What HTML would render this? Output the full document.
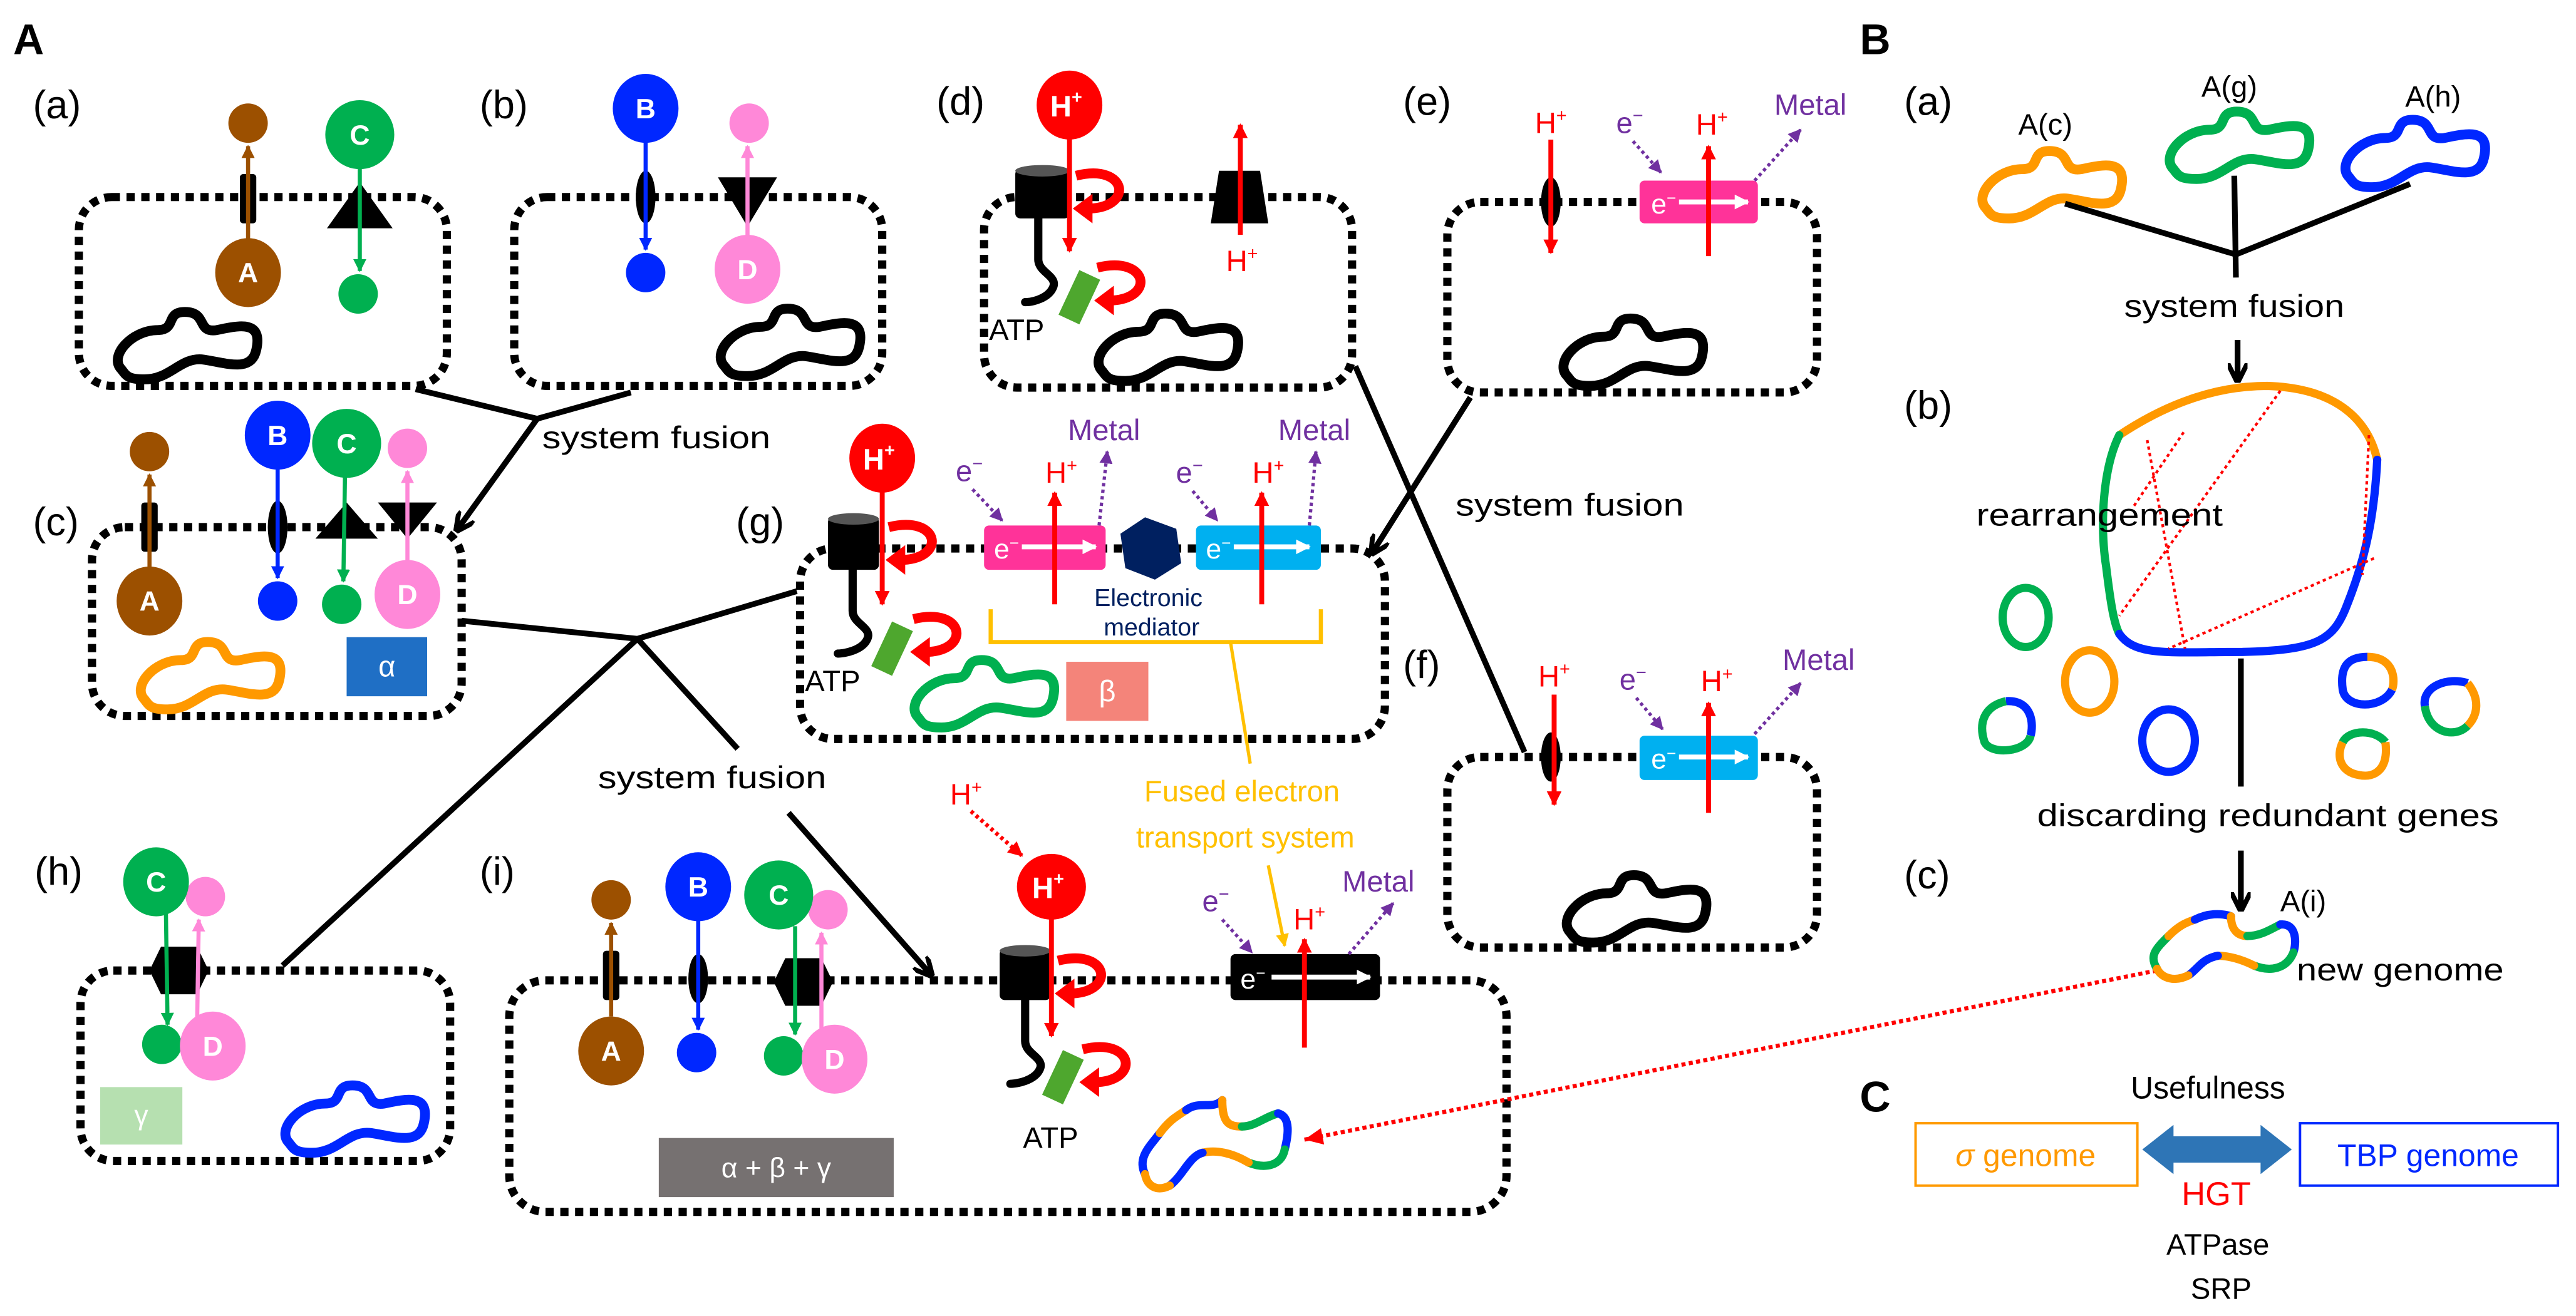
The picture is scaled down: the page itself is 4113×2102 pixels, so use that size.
<!DOCTYPE html>
<html><head><meta charset="utf-8"><style>
html,body{margin:0;padding:0;background:#fff;width:4113px;height:2102px;overflow:hidden}
svg{display:block}
text{font-family:"Liberation Sans","Noto Sans CJK JP",sans-serif}
</style></head><body>
<svg width="4113" height="2102" viewBox="0 0 1568 801.4" preserveAspectRatio="none" xmlns="http://www.w3.org/2000/svg">
<defs>
<marker id="ak" viewBox="0 0 10 10" refX="8" refY="5" markerWidth="14" markerHeight="14" markerUnits="userSpaceOnUse" orient="auto"><path d="M0,0 L9,5 L0,10" fill="none" stroke="#000" stroke-width="2.2"/></marker>
<marker id="ar" viewBox="0 0 10 10" refX="9" refY="5" markerWidth="9" markerHeight="9" markerUnits="userSpaceOnUse" orient="auto"><path d="M0,0 L10,5 L0,10 z" fill="#f00"/></marker>
<marker id="abr" viewBox="0 0 10 10" refX="9" refY="5" markerWidth="8" markerHeight="8" markerUnits="userSpaceOnUse" orient="auto"><path d="M0,0 L10,5 L0,10 z" fill="#9c5000"/></marker>
<marker id="ag" viewBox="0 0 10 10" refX="9" refY="5" markerWidth="8" markerHeight="8" markerUnits="userSpaceOnUse" orient="auto"><path d="M0,0 L10,5 L0,10 z" fill="#00b050"/></marker>
<marker id="ay" viewBox="0 0 10 10" refX="9" refY="5" markerWidth="8" markerHeight="8" markerUnits="userSpaceOnUse" orient="auto"><path d="M0,0 L10,5 L0,10 z" fill="#ffc000"/></marker>
<marker id="ab" viewBox="0 0 10 10" refX="9" refY="5" markerWidth="8" markerHeight="8" markerUnits="userSpaceOnUse" orient="auto"><path d="M0,0 L10,5 L0,10 z" fill="#0027ff"/></marker>
<marker id="ap" viewBox="0 0 10 10" refX="9" refY="5" markerWidth="8" markerHeight="8" markerUnits="userSpaceOnUse" orient="auto"><path d="M0,0 L10,5 L0,10 z" fill="#ff88d8"/></marker>
<marker id="apu" viewBox="0 0 10 10" refX="9" refY="5" markerWidth="8" markerHeight="8" markerUnits="userSpaceOnUse" orient="auto"><path d="M0,0 L10,5 L0,10 z" fill="#7030a0"/></marker>
<marker id="aw" viewBox="0 0 10 10" refX="9" refY="5" markerWidth="9" markerHeight="9" markerUnits="userSpaceOnUse" orient="auto"><path d="M0,0 L10,5 L0,10 z" fill="#fff"/></marker>
<marker id="ablk" viewBox="0 0 10 10" refX="9" refY="5" markerWidth="12" markerHeight="12" markerUnits="userSpaceOnUse" orient="auto"><path d="M0,0 L10,5 L0,10" fill="none" stroke="#000" stroke-width="2.5"/></marker>
<path id="gen" d="M6,36 C-2,28 12,12 28,12 C40,12 32,0 46,1 C58,2 52,14 64,12 C78,9 92,6 88,24 C85,38 70,32 56,30 C42,28 36,42 20,42 C10,42 9,40 6,36 Z" fill="none" stroke-width="6" stroke-linejoin="round"/>
<g id="curl"><path d="M-2,-9 C30,-17 34,12 3,11" fill="none" stroke="#f00" stroke-width="6"/><path d="M-4,11 L8,2 L8,20 z" fill="#f00"/></g>
</defs>

<g font-size="24" fill="#000">
<text x="8" y="33" font-size="26" font-weight="bold">A</text>
<text x="1132" y="33" font-size="26" font-weight="bold">B</text>
<text x="1132" y="677" font-size="26" font-weight="bold">C</text>
<text x="20" y="72">(a)</text>
<text x="292" y="72">(b)</text>
<text x="570" y="70">(d)</text>
<text x="854" y="70">(e)</text>
<text x="20" y="326">(c)</text>
<text x="448" y="326">(g)</text>
<text x="854" y="413">(f)</text>
<text x="21" y="539">(h)</text>
<text x="292" y="539">(i)</text>
<text x="1159" y="70">(a)</text>
<text x="1159" y="255">(b)</text>
<text x="1159" y="541">(c)</text>
</g>

<g fill="none" stroke="#000" stroke-width="5" stroke-dasharray="5 4">
<rect x="48" y="120" width="224" height="115" rx="20"/>
<rect x="313" y="120" width="224" height="115" rx="20"/>
<rect x="56" y="321" width="225" height="115" rx="20"/>
<rect x="599" y="120" width="224" height="116" rx="20"/>
<rect x="881" y="123" width="225" height="116" rx="20"/>
<rect x="487" y="334" width="356" height="116" rx="20"/>
<rect x="881" y="461" width="225" height="116" rx="20"/>
<rect x="49" y="591" width="225" height="116" rx="20"/>
<rect x="310" y="597" width="607" height="141" rx="22"/>
</g>

<use href="#gen" x="68" y="189" stroke="#000"/>
<use href="#gen" x="435" y="187" stroke="#000"/>
<use href="#gen" x="665" y="190" stroke="#000"/>
<use href="#gen" x="948" y="193" stroke="#000"/>
<use href="#gen" x="950" y="532" stroke="#000"/>
<use href="#gen" x="82" y="390" stroke="#ff9900"/>
<use href="#gen" x="553" y="401" stroke="#00b050"/>
<use href="#gen" x="170" y="660" stroke="#0027ff"/>
<use href="#gen" x="1203" y="91" stroke="#ff9900"/>
<use href="#gen" x="1317" y="67" stroke="#00b050"/>
<use href="#gen" x="1424" y="72" stroke="#0027ff"/>

<!-- (a) -->
<rect x="146" y="106" width="10" height="30" rx="2" fill="#000"/>
<line x1="151" y1="146" x2="151" y2="89" stroke="#9c5000" stroke-width="2.5" marker-end="url(#abr)"/>
<ellipse cx="151" cy="75" rx="12" ry="12" fill="#9c5000"/>
<ellipse cx="151" cy="166" rx="20" ry="21" fill="#9c5000"/>
<text x="151" y="172" font-size="17" font-weight="bold" fill="#fff" text-anchor="middle">A</text>
<polygon points="219,111 199,139 239,139" fill="#000"/>
<line x1="219" y1="100" x2="219" y2="165" stroke="#00b050" stroke-width="2.5" marker-end="url(#ag)"/>
<ellipse cx="219" cy="82" rx="21" ry="21" fill="#00b050"/>
<text x="219" y="88" font-size="17" font-weight="bold" fill="#fff" text-anchor="middle">C</text>
<ellipse cx="218" cy="179" rx="12" ry="12" fill="#00b050"/>

<!-- (b) -->
<ellipse cx="393" cy="120" rx="6" ry="16" fill="#000"/>
<line x1="393" y1="85" x2="393" y2="152" stroke="#0027ff" stroke-width="2.5" marker-end="url(#ab)"/>
<ellipse cx="393" cy="66" rx="20" ry="21" fill="#0027ff"/>
<text x="393" y="72" font-size="17" font-weight="bold" fill="#fff" text-anchor="middle">B</text>
<ellipse cx="393" cy="166" rx="12" ry="12" fill="#0027ff"/>
<polygon points="437,108 473,108 455,138" fill="#000"/>
<line x1="455" y1="145" x2="455" y2="89" stroke="#ff88d8" stroke-width="2.5" marker-end="url(#ap)"/>
<ellipse cx="456" cy="75" rx="12" ry="12" fill="#ff88d8"/>
<ellipse cx="455" cy="164" rx="20" ry="21" fill="#ff88d8"/>
<text x="455" y="170" font-size="17" font-weight="bold" fill="#fff" text-anchor="middle">D</text>

<!-- (c) -->
<rect x="86" y="306" width="10" height="30" rx="2" fill="#000"/>
<line x1="91" y1="346" x2="91" y2="289" stroke="#9c5000" stroke-width="2.5" marker-end="url(#abr)"/>
<ellipse cx="91" cy="275" rx="12" ry="12" fill="#9c5000"/>
<ellipse cx="91" cy="366" rx="20" ry="21" fill="#9c5000"/>
<text x="91" y="372" font-size="17" font-weight="bold" fill="#fff" text-anchor="middle">A</text>
<ellipse cx="169" cy="321" rx="6" ry="16" fill="#000"/>
<line x1="169" y1="284" x2="169" y2="352" stroke="#0027ff" stroke-width="2.5" marker-end="url(#ab)"/>
<ellipse cx="169" cy="265" rx="20" ry="21" fill="#0027ff"/>
<text x="169" y="271" font-size="17" font-weight="bold" fill="#fff" text-anchor="middle">B</text>
<ellipse cx="169" cy="366" rx="12" ry="12" fill="#0027ff"/>
<polygon points="211,306 192,328 230,328" fill="#000"/>
<polygon points="230,306 266,306 248,328" fill="#000"/>
<line x1="210" y1="289" x2="209" y2="354" stroke="#00b050" stroke-width="2.5" marker-end="url(#ag)"/>
<ellipse cx="211" cy="270" rx="21" ry="21" fill="#00b050"/>
<text x="211" y="276" font-size="17" font-weight="bold" fill="#fff" text-anchor="middle">C</text>
<ellipse cx="208" cy="368" rx="12" ry="12" fill="#00b050"/>
<line x1="248" y1="342" x2="248" y2="287" stroke="#ff88d8" stroke-width="2.5" marker-end="url(#ap)"/>
<ellipse cx="248" cy="273" rx="12" ry="12" fill="#ff88d8"/>
<ellipse cx="248" cy="362" rx="20" ry="21" fill="#ff88d8"/>
<text x="248" y="368" font-size="17" font-weight="bold" fill="#fff" text-anchor="middle">D</text>
<rect x="211" y="388" width="49" height="36" fill="#1f6fc5"/>
<text x="235.5" y="412" font-size="18" fill="#fff" text-anchor="middle">α</text>

<!-- (d) -->
<path d="M632,132 L632,158 C632,166 644,168 641,175 C638,182 628,184 624,184" fill="none" stroke="#000" stroke-width="5" stroke-linecap="round"/>
<rect x="618" y="103" width="33" height="30" rx="3" fill="#000"/>
<ellipse cx="634.5" cy="104" rx="16.5" ry="3.5" fill="#555"/>
<rect x="650" y="166" width="14" height="30" transform="rotate(25 657 181)" fill="#4ea72e"/>
<line x1="651" y1="80" x2="651" y2="153" stroke="#f00" stroke-width="3" marker-end="url(#ar)"/>
<ellipse cx="651" cy="64" rx="20" ry="21" fill="#f00"/>
<text x="649" y="71" font-size="18" font-weight="bold" fill="#fff" text-anchor="middle">H<tspan font-size="11" dy="-8">+</tspan></text>
<use href="#curl" x="657" y="116"/>
<use href="#curl" x="670" y="172"/>
<text x="602" y="207" font-size="18">ATP</text>
<polygon points="742,104 767,104 772,136 737,136" fill="#000"/>
<line x1="755" y1="143" x2="755" y2="76" stroke="#f00" stroke-width="3" marker-end="url(#ar)"/>
<text x="756" y="165" font-size="18" fill="#f00" text-anchor="middle">H<tspan font-size="11" dy="-7">+</tspan></text>

<!-- (e) -->
<ellipse cx="944" cy="123" rx="6" ry="15" fill="#000"/>
<line x1="944" y1="85" x2="944" y2="154" stroke="#f00" stroke-width="3" marker-end="url(#ar)"/>
<text x="944" y="81" font-size="18" fill="#f00" text-anchor="middle">H<tspan font-size="11" dy="-7">+</tspan></text>
<text x="992" y="81" font-size="18" fill="#7030a0" text-anchor="middle">e<tspan font-size="11" dy="-7">−</tspan></text>
<line x1="994" y1="86" x2="1011" y2="105" stroke="#7030a0" stroke-width="2" stroke-dasharray="2 2" marker-end="url(#apu)"/>
<rect x="998" y="110" width="72" height="26" rx="3" fill="#ff3399"/>
<text x="1005" y="130" font-size="17" fill="#fff">e<tspan font-size="10" dy="-6">−</tspan></text>
<line x1="1022" y1="123" x2="1064" y2="123" stroke="#fff" stroke-width="3" marker-end="url(#aw)"/>
<line x1="1040" y1="156" x2="1040" y2="89" stroke="#f00" stroke-width="3" marker-end="url(#ar)"/>
<text x="1042" y="82" font-size="18" fill="#f00" text-anchor="middle">H<tspan font-size="11" dy="-7">+</tspan></text>
<line x1="1068" y1="110" x2="1096" y2="79" stroke="#7030a0" stroke-width="2" stroke-dasharray="2 2" marker-end="url(#apu)"/>
<text x="1102" y="70" font-size="18" fill="#7030a0" text-anchor="middle">Metal</text>

<!-- (f) -->
<ellipse cx="944" cy="461" rx="6" ry="15" fill="#000"/>
<line x1="946" y1="423" x2="946" y2="490" stroke="#f00" stroke-width="3" marker-end="url(#ar)"/>
<text x="946" y="418" font-size="18" fill="#f00" text-anchor="middle">H<tspan font-size="11" dy="-7">+</tspan></text>
<text x="994" y="420" font-size="18" fill="#7030a0" text-anchor="middle">e<tspan font-size="11" dy="-7">−</tspan></text>
<line x1="996" y1="425" x2="1012" y2="444" stroke="#7030a0" stroke-width="2" stroke-dasharray="2 2" marker-end="url(#apu)"/>
<rect x="998" y="448" width="72" height="27" rx="3" fill="#00b0f0"/>
<text x="1005" y="468" font-size="17" fill="#fff">e<tspan font-size="10" dy="-6">−</tspan></text>
<line x1="1022" y1="461" x2="1064" y2="461" stroke="#fff" stroke-width="3" marker-end="url(#aw)"/>
<line x1="1040" y1="495" x2="1040" y2="428" stroke="#f00" stroke-width="3" marker-end="url(#ar)"/>
<text x="1045" y="421" font-size="18" fill="#f00" text-anchor="middle">H<tspan font-size="11" dy="-7">+</tspan></text>
<line x1="1068" y1="447" x2="1096" y2="416" stroke="#7030a0" stroke-width="2" stroke-dasharray="2 2" marker-end="url(#apu)"/>
<text x="1107" y="408" font-size="18" fill="#7030a0" text-anchor="middle">Metal</text>

<!-- (g) -->
<path d="M519,346 L519,372 C519,380 531,382 528,389 C525,396 514,398 510,398" fill="none" stroke="#000" stroke-width="5" stroke-linecap="round"/>
<rect x="504" y="315" width="31" height="32" rx="3" fill="#000"/>
<ellipse cx="519.5" cy="316" rx="15.5" ry="3.5" fill="#555"/>
<rect x="536" y="380" width="14" height="30" transform="rotate(25 543 395)" fill="#4ea72e"/>
<line x1="537" y1="295" x2="537" y2="368" stroke="#f00" stroke-width="3" marker-end="url(#ar)"/>
<ellipse cx="537" cy="279" rx="20" ry="21" fill="#f00"/>
<text x="535" y="286" font-size="18" font-weight="bold" fill="#fff" text-anchor="middle">H<tspan font-size="11" dy="-8">+</tspan></text>
<use href="#curl" x="543" y="330"/>
<use href="#curl" x="558" y="386"/>
<text x="490" y="421" font-size="18">ATP</text>
<rect x="599" y="320" width="74" height="27" rx="3" fill="#ff3399"/>
<text x="605" y="340" font-size="17" fill="#fff">e<tspan font-size="10" dy="-6">−</tspan></text>
<line x1="622" y1="333" x2="667" y2="333" stroke="#fff" stroke-width="3" marker-end="url(#aw)"/>
<rect x="728" y="320" width="76" height="27" rx="3" fill="#00b0f0"/>
<text x="734" y="340" font-size="17" fill="#fff">e<tspan font-size="10" dy="-6">−</tspan></text>
<line x1="751" y1="333" x2="797" y2="333" stroke="#fff" stroke-width="3" marker-end="url(#aw)"/>
<polygon points="697,315 716,322 719,343 703,353 685,346 682,325" fill="#002060"/>
<line x1="642" y1="368" x2="642" y2="300" stroke="#f00" stroke-width="3" marker-end="url(#ar)"/>
<line x1="768" y1="368" x2="768" y2="300" stroke="#f00" stroke-width="3" marker-end="url(#ar)"/>
<text x="646" y="294" font-size="18" fill="#f00" text-anchor="middle">H<tspan font-size="11" dy="-7">+</tspan></text>
<text x="772" y="294" font-size="18" fill="#f00" text-anchor="middle">H<tspan font-size="11" dy="-7">+</tspan></text>
<text x="590" y="293" font-size="18" fill="#7030a0" text-anchor="middle">e<tspan font-size="11" dy="-7">−</tspan></text>
<text x="724" y="294" font-size="18" fill="#7030a0" text-anchor="middle">e<tspan font-size="11" dy="-7">−</tspan></text>
<line x1="592" y1="298" x2="610" y2="317" stroke="#7030a0" stroke-width="2" stroke-dasharray="2 2" marker-end="url(#apu)"/>
<line x1="726" y1="299" x2="741" y2="317" stroke="#7030a0" stroke-width="2" stroke-dasharray="2 2" marker-end="url(#apu)"/>
<line x1="669" y1="320" x2="674" y2="275" stroke="#7030a0" stroke-width="2" stroke-dasharray="2 2" marker-end="url(#apu)"/>
<line x1="797" y1="320" x2="801" y2="275" stroke="#7030a0" stroke-width="2" stroke-dasharray="2 2" marker-end="url(#apu)"/>
<text x="672" y="268" font-size="18" fill="#7030a0" text-anchor="middle">Metal</text>
<text x="800" y="268" font-size="18" fill="#7030a0" text-anchor="middle">Metal</text>
<text x="699" y="369" font-size="15" fill="#002060" text-anchor="middle">Electronic</text>
<text x="701" y="387" font-size="15" fill="#002060" text-anchor="middle">mediator</text>
<path d="M603,371 L603,391 L804,391 L804,371" fill="none" stroke="#ffc000" stroke-width="2.5"/>
<line x1="749" y1="391" x2="761" y2="465" stroke="#ffc000" stroke-width="2"/>
<rect x="649" y="403" width="50" height="36" fill="#f4847a"/>
<text x="674" y="427" font-size="18" fill="#fff" text-anchor="middle">β</text>
<text x="756" y="488" font-size="18" fill="#ffc000" text-anchor="middle">Fused electron</text>
<text x="758" y="516" font-size="18" fill="#ffc000" text-anchor="middle">transport system</text>
<line x1="772" y1="527" x2="782" y2="576" stroke="#ffc000" stroke-width="2" marker-end="url(#ay)"/>

<!-- (h) -->
<polygon points="91,591 98,576.5 120,576.5 127,591 120,605.5 98,605.5" fill="#000"/>
<line x1="101" y1="556" x2="102" y2="624" stroke="#00b050" stroke-width="2.5" marker-end="url(#ag)"/>
<line x1="120" y1="622" x2="121" y2="560" stroke="#ff88d8" stroke-width="2.5" marker-end="url(#ap)"/>
<ellipse cx="125" cy="546" rx="12" ry="12" fill="#ff88d8"/>
<ellipse cx="95" cy="537" rx="20" ry="21" fill="#00b050"/>
<text x="95" y="543" font-size="17" font-weight="bold" fill="#fff" text-anchor="middle">C</text>
<ellipse cx="98.5" cy="636" rx="12" ry="12" fill="#00b050"/>
<ellipse cx="129.5" cy="637" rx="20" ry="21" fill="#ff88d8"/>
<text x="129.5" y="643" font-size="17" font-weight="bold" fill="#fff" text-anchor="middle">D</text>
<rect x="61" y="662" width="50" height="35" fill="#b6e0b0"/>
<text x="86" y="685" font-size="17" fill="#fff" text-anchor="middle">γ</text>

<!-- (i) -->
<rect x="367" y="579" width="10" height="30" rx="2" fill="#000"/>
<line x1="372" y1="619" x2="372" y2="562" stroke="#9c5000" stroke-width="2.5" marker-end="url(#abr)"/>
<ellipse cx="372" cy="548" rx="12" ry="12" fill="#9c5000"/>
<ellipse cx="372" cy="640" rx="20" ry="21" fill="#9c5000"/>
<text x="372" y="646" font-size="17" font-weight="bold" fill="#fff" text-anchor="middle">A</text>
<ellipse cx="425" cy="596" rx="6" ry="15" fill="#000"/>
<line x1="425" y1="559" x2="425" y2="627" stroke="#0027ff" stroke-width="2.5" marker-end="url(#ab)"/>
<ellipse cx="425" cy="540" rx="20" ry="21" fill="#0027ff"/>
<text x="425" y="546" font-size="17" font-weight="bold" fill="#fff" text-anchor="middle">B</text>
<ellipse cx="424" cy="641" rx="12" ry="12" fill="#0027ff"/>
<polygon points="471,598 478,583.5 500,583.5 507,598 500,612.5 478,612.5" fill="#000"/>
<line x1="484" y1="564" x2="484" y2="630" stroke="#00b050" stroke-width="2.5" marker-end="url(#ag)"/>
<line x1="500" y1="628" x2="500" y2="568" stroke="#ff88d8" stroke-width="2.5" marker-end="url(#ap)"/>
<ellipse cx="504" cy="554" rx="12" ry="12" fill="#ff88d8"/>
<ellipse cx="474" cy="545" rx="21" ry="21" fill="#00b050"/>
<text x="474" y="551" font-size="17" font-weight="bold" fill="#fff" text-anchor="middle">C</text>
<ellipse cx="477" cy="643" rx="12" ry="12" fill="#00b050"/>
<ellipse cx="508" cy="645" rx="20" ry="21" fill="#ff88d8"/>
<text x="508" y="651" font-size="17" font-weight="bold" fill="#fff" text-anchor="middle">D</text>
<rect x="401" y="693" width="143" height="36" fill="#767171"/>
<text x="472.5" y="717" font-size="17" fill="#fff" text-anchor="middle">α + β + γ</text>
<text x="588" y="490" font-size="18" fill="#f00" text-anchor="middle">H<tspan font-size="11" dy="-7">+</tspan></text>
<line x1="591" y1="494" x2="622" y2="521" stroke="#f00" stroke-width="2.5" stroke-dasharray="2 2" marker-end="url(#ar)"/>
<path d="M624,608 L624,634 C624,642 636,644 633,651 C630,658 619,660 615,660" fill="none" stroke="#000" stroke-width="5" stroke-linecap="round"/>
<rect x="608.5" y="578" width="31" height="31" rx="3" fill="#000"/>
<ellipse cx="624" cy="579" rx="15.5" ry="3.5" fill="#555"/>
<rect x="640" y="641" width="14" height="30" transform="rotate(25 647 656)" fill="#4ea72e"/>
<line x1="640" y1="558" x2="640" y2="631" stroke="#f00" stroke-width="3" marker-end="url(#ar)"/>
<ellipse cx="640" cy="540" rx="21" ry="20" fill="#f00"/>
<text x="638" y="547" font-size="18" font-weight="bold" fill="#fff" text-anchor="middle">H<tspan font-size="11" dy="-8">+</tspan></text>
<use href="#curl" x="646" y="594"/>
<use href="#curl" x="661" y="648"/>
<text x="639.5" y="699" font-size="18" text-anchor="middle">ATP</text>
<rect x="749" y="581" width="91" height="28" rx="3" fill="#000"/>
<text x="755" y="602" font-size="17" fill="#fff">e<tspan font-size="10" dy="-6">−</tspan></text>
<line x1="774" y1="595" x2="834" y2="595" stroke="#fff" stroke-width="3" marker-end="url(#aw)"/>
<line x1="794" y1="638" x2="794" y2="572" stroke="#f00" stroke-width="3" marker-end="url(#ar)"/>
<text x="797" y="566" font-size="18" fill="#f00" text-anchor="middle">H<tspan font-size="11" dy="-7">+</tspan></text>
<text x="740" y="555" font-size="18" fill="#7030a0" text-anchor="middle">e<tspan font-size="11" dy="-7">−</tspan></text>
<line x1="744" y1="560" x2="762" y2="580" stroke="#7030a0" stroke-width="2" stroke-dasharray="2 2" marker-end="url(#apu)"/>
<line x1="821" y1="581" x2="848" y2="550" stroke="#7030a0" stroke-width="2" stroke-dasharray="2 2" marker-end="url(#apu)"/>
<text x="839" y="543" font-size="18" fill="#7030a0" text-anchor="middle">Metal</text>
<g fill="none" stroke-width="5" stroke-linecap="round">
<path d="M697,715 C692,705 700,698 706,690" stroke="#0027ff"/>
<path d="M706,690 C712,682 716,680 722,676" stroke="#ff9900"/>
<path d="M722,676 C730,670 738,676 744,670" stroke="#0027ff"/>
<path d="M744,670 C744,684 748,686 756,686" stroke="#ff9900"/>
<path d="M756,686 C764,686 770,680 778,678" stroke="#00b050"/>
<path d="M778,678 C786,680 784,692 782,700" stroke="#0027ff"/>
<path d="M782,700 C780,710 770,712 760,708" stroke="#00b050"/>
<path d="M760,708 C750,702 740,700 732,702" stroke="#ff9900"/>
<path d="M732,702 C724,704 720,716 712,722" stroke="#0027ff"/>
<path d="M712,722 C704,726 698,722 697,715" stroke="#ff9900"/>
</g>

<g stroke="#000" stroke-width="3.5" fill="none">
<polyline points="253,237 327,255 384,239"/>
<line x1="327" y1="255" x2="278" y2="323" marker-end="url(#ablk)"/>
<polyline points="281,378 388,389 485,360"/>
<line x1="388" y1="389" x2="172" y2="588"/>
<line x1="388" y1="389" x2="449" y2="456"/>
<line x1="480" y1="495" x2="567" y2="594" marker-end="url(#ablk)"/>
<line x1="825" y1="223" x2="928" y2="458"/>
<line x1="895" y1="242" x2="835" y2="337" marker-end="url(#ablk)"/>
</g>
<text x="330" y="273" font-size="19" textLength="139" lengthAdjust="spacingAndGlyphs">system fusion</text>
<text x="364" y="480" font-size="19" textLength="139" lengthAdjust="spacingAndGlyphs">system fusion</text>
<text x="886" y="314" font-size="19" textLength="139" lengthAdjust="spacingAndGlyphs">system fusion</text>
<line x1="794" y1="694" x2="1313" y2="591" stroke="#f00" stroke-width="2.5" stroke-dasharray="2.5 2"/>
<path d="M804,687 L794,694 L806,697 z" fill="#f00"/>

<!-- Panel B -->
<g font-size="18">
<text x="1245" y="82" text-anchor="middle">A(c)</text>
<text x="1357" y="59" text-anchor="middle">A(g)</text>
<text x="1481" y="65" text-anchor="middle">A(h)</text>
</g>
<g stroke="#000" stroke-width="3.5" fill="none">
<polyline points="1257,124 1361,155 1467,112"/>
<line x1="1360" y1="107" x2="1361" y2="169"/>
<line x1="1362" y1="207" x2="1362" y2="232" marker-end="url(#ablk)"/>
<line x1="1364" y1="401" x2="1364" y2="479"/>
<line x1="1364" y1="518" x2="1364" y2="554" marker-end="url(#ablk)"/>
</g>
<text x="1293" y="193" font-size="19" textLength="134" lengthAdjust="spacingAndGlyphs">system fusion</text>
<g fill="none" stroke-width="5" stroke-linecap="round">
<path d="M1290,265 C1320,245 1350,235 1380,235 C1415,236 1440,250 1447,280" stroke="#ff9900"/>
<path d="M1290,265 C1280,285 1278,320 1282,345 C1285,370 1287,380 1290,386" stroke="#00b050"/>
<path d="M1290,386 C1300,400 1320,397 1365,397 C1410,396 1420,390 1428,370 C1438,345 1445,320 1447,280" stroke="#0027ff"/>
</g>
<g stroke="#f00" stroke-width="1.6" stroke-dasharray="2 2" fill="none">
<line x1="1307" y1="268" x2="1330" y2="395"/>
<line x1="1388" y1="238" x2="1290" y2="375"/>
<line x1="1299" y1="308" x2="1330" y2="262"/>
<line x1="1442" y1="265" x2="1438" y2="350"/>
<line x1="1445" y1="340" x2="1320" y2="395"/>
</g>
<text x="1203" y="320" font-size="19" textLength="150" lengthAdjust="spacingAndGlyphs">rearrangement</text>
<g fill="none" stroke-width="5">
<ellipse cx="1233" cy="376" rx="14" ry="18" stroke="#00b050"/>
<ellipse cx="1272" cy="415" rx="15" ry="19" stroke="#ff9900"/>
<ellipse cx="1320" cy="451" rx="16" ry="19" stroke="#0027ff"/>
<path d="M1221,427 C1237,426 1238,441 1236,448" stroke="#0027ff"/><path d="M1236,448 C1234,458 1212,460 1208,452 C1204,440 1208,430 1221,427" stroke="#00b050"/>
<path d="M1441,400 C1458,400 1458,415 1456,420" stroke="#ff9900"/><path d="M1456,420 C1450,432 1428,432 1426,420 C1424,405 1430,400 1441,400" stroke="#0027ff"/>
<path d="M1476,430 C1474,418 1490,412 1502,416" stroke="#0027ff"/><path d="M1502,416 C1510,426 1508,436 1502,442" stroke="#ff9900"/><path d="M1502,442 C1494,450 1478,446 1476,430" stroke="#00b050"/>
<path d="M1426,452 C1430,444 1446,444 1452,452" stroke="#00b050"/><path d="M1452,452 C1454,468 1446,474 1436,472 C1424,470 1422,460 1426,452" stroke="#ff9900"/>
</g>
<text x="1240" y="503" font-size="19" textLength="281" lengthAdjust="spacingAndGlyphs">discarding redundant genes</text>
<text x="1402" y="555" font-size="18" text-anchor="middle">A(i)</text>
<text x="1398" y="597" font-size="19" textLength="126" lengthAdjust="spacingAndGlyphs">new genome</text>
<g fill="none" stroke-width="5" stroke-linecap="round">
<path d="M1313,590 C1308,582 1312,578 1320,570" stroke="#00b050"/>
<path d="M1320,570 C1326,564 1330,562 1336,560" stroke="#ff9900"/>
<path d="M1336,560 C1344,556 1352,556 1358,558" stroke="#0027ff"/>
<path d="M1358,558 C1358,566 1362,570 1368,570" stroke="#ff9900"/>
<path d="M1368,570 C1376,570 1382,566 1388,563" stroke="#00b050"/>
<path d="M1388,563 C1398,562 1398,574 1396,580" stroke="#0027ff"/>
<path d="M1396,580 C1392,590 1382,592 1372,588" stroke="#00b050"/>
<path d="M1372,588 C1364,584 1356,582 1350,582" stroke="#ff9900"/>
<path d="M1350,582 C1340,584 1338,590 1332,594" stroke="#0027ff"/>
<path d="M1332,594 C1324,598 1316,596 1313,590" stroke="#ff9900"/>
</g>

<!-- Panel C -->
<text x="1344" y="669" font-size="19" text-anchor="middle">Usefulness</text>
<rect x="1166" y="684" width="135" height="38" fill="none" stroke="#ff9900" stroke-width="1.5"/>
<text x="1233" y="710" font-size="19" fill="#ff9900" text-anchor="middle"><tspan font-style="italic">σ</tspan> genome</text>
<rect x="1400" y="684" width="157" height="38" fill="none" stroke="#0027ff" stroke-width="1.5"/>
<text x="1478" y="710" font-size="19" fill="#0027ff" text-anchor="middle">TBP genome</text>
<polygon points="1304,700 1323,685 1323,692 1376,692 1376,685 1395,700 1376,715 1376,708 1323,708 1323,715" fill="#2e75b6"/>
<text x="1349" y="734" font-size="20" fill="#f00" text-anchor="middle">HGT</text>
<text x="1350" y="764" font-size="18" text-anchor="middle">ATPase</text>
<text x="1352" y="791" font-size="18" text-anchor="middle">SRP</text>
</svg>
</body></html>
